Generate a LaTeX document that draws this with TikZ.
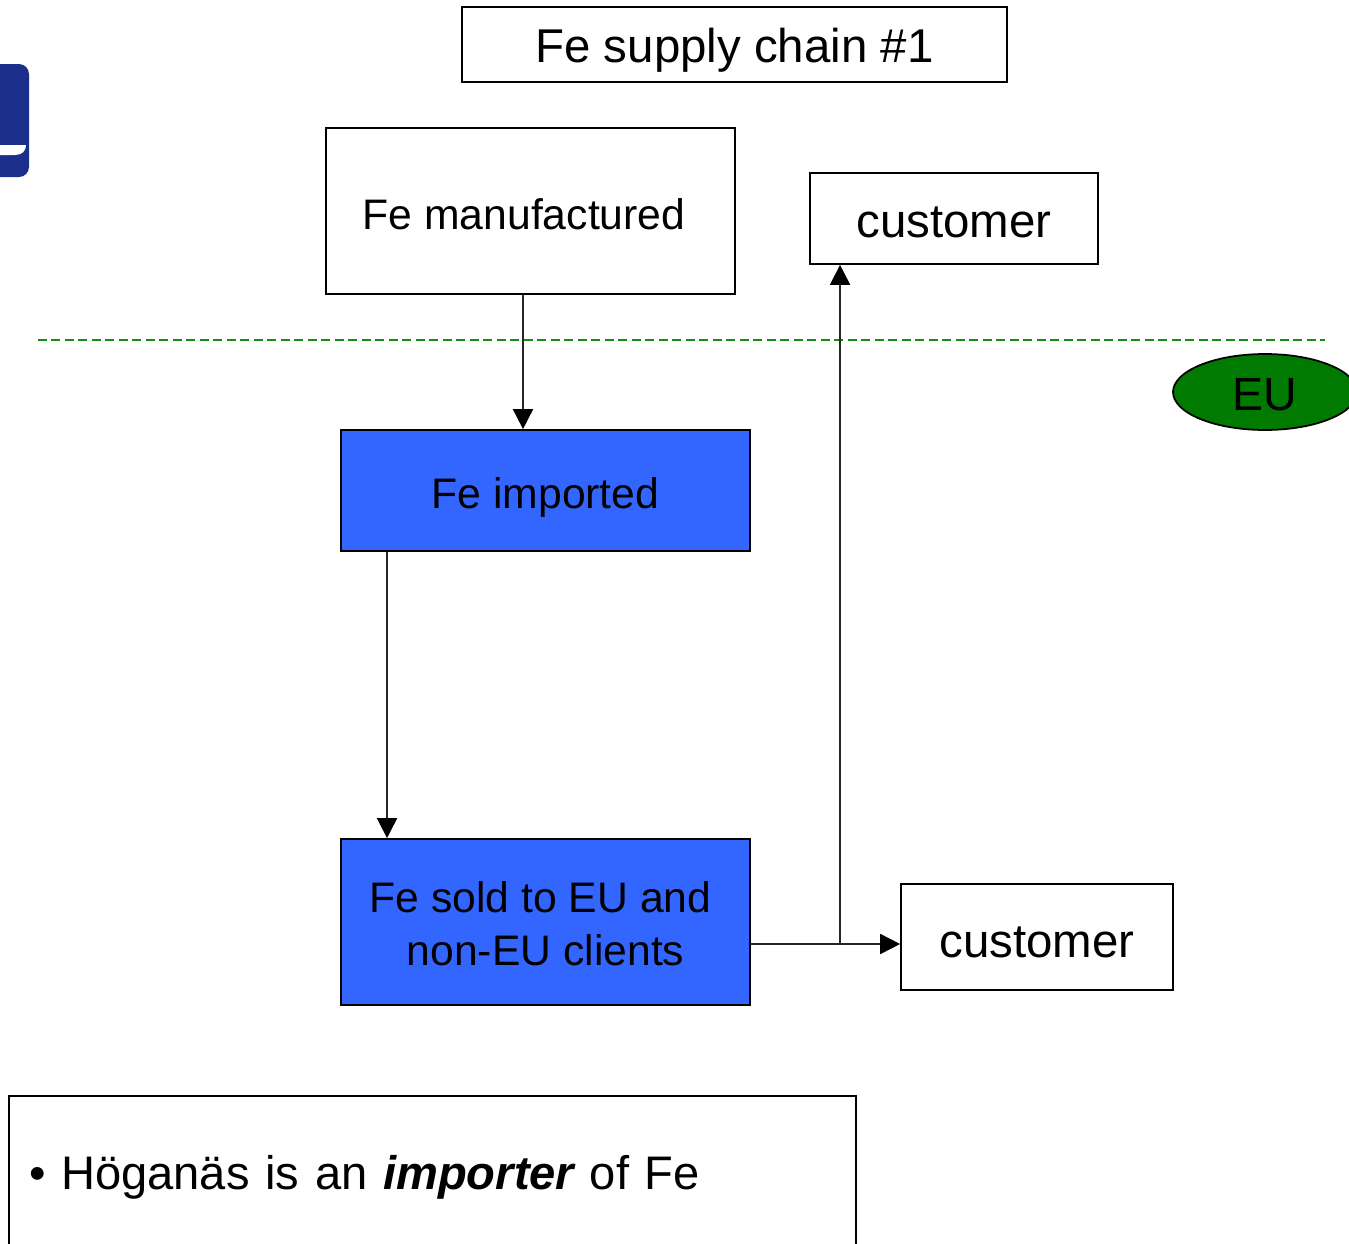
\documentclass[tikz,border=0pt]{standalone}
\usepackage{fontspec}
\setmainfont{Liberation Sans}
\usetikzlibrary{arrows.meta,shapes.geometric}
\definecolor{boxblue}{HTML}{3366FF}
\definecolor{eugreen}{HTML}{007A00}
\definecolor{linegreen}{HTML}{119011}
\definecolor{logoblue}{HTML}{1A2E8A}
\tikzset{
  box/.style={draw,line width=1pt,inner sep=0pt,align=center,text depth=0pt,font=\fontsize{24.3}{30}\selectfont},
  bluebox/.style={box,fill=boxblue},
  wire/.style={line width=1pt,draw=black!85},
  flow/.style={wire,-{Triangle[length=0.4cm,width=0.4cm,color=black]}},
}
\begin{document}
\begin{tikzpicture}[x=0.02cm,y=-0.02cm]
\useasboundingbox (0,0) rectangle (1349,1244);
\clip (0,0) rectangle (1349,1244);

\fill[logoblue,rounded corners=0.2cm] (-60,64) rectangle (29,177); % logo
\fill[white] (-60,145) -- (26,145) .. controls (26,151) and (22,155) .. (15,155) -- (-60,155) -- cycle; % franja logo

\coordinate (borderleft) at (38,340); % frontera
\coordinate (borderright) at (1325,340);
\draw[linegreen,line width=0.8pt,dash pattern=on 0.18cm off 0.09cm] (borderleft) -- (borderright);

\node[box,minimum width=10.9cm,minimum height=1.5cm,text height=0.74cm,font=\fontsize{27}{32}\selectfont] (title) at (734.5,44.5) {Fe supply chain \#1};
\node[box,minimum width=8.18cm,minimum height=3.32cm,text height=0.74cm] (manufactured) at (530.5,211) {Fe manufactured\hspace*{0.26cm}};
\node[box,minimum width=5.76cm,minimum height=1.82cm,text height=0.78cm,font=\fontsize{27}{32}\selectfont] (customertop) at (954,218.5) {customer};
\node[bluebox,minimum width=8.18cm,minimum height=2.42cm,text height=0.70cm] (imported) at (545.5,490.5) {Fe imported};
\node[bluebox,minimum width=8.18cm,minimum height=3.32cm,text depth=,text height=] (sold) at (545.5,922) {\rule{0pt}{19.5pt}Fe sold to EU and\hspace*{0.2cm}\\non-EU clients};
\node[box,minimum width=5.44cm,minimum height=2.12cm,text height=0.8cm,font=\fontsize{27}{32}\selectfont] (customerbottom) at (1037,937) {customer};
\node[ellipse,draw,line width=1pt,fill=eugreen,inner sep=0pt,minimum width=3.68cm,minimum height=1.52cm,text height=0.72cm,text depth=0pt,font=\fontsize{26.5}{32}\selectfont] (eu) at (1265,392) {EU};
\node[draw,line width=1pt,minimum width=16.94cm,minimum height=3.04cm,inner sep=0pt,text width=16.14cm,text height=0.68cm,text depth=0pt,align=left,font=\fontsize{26.8}{32}\selectfont] (note) at (432.5,1172) {• Höganäs is an {\bfseries\itshape importer} of Fe};

\coordinate (branch) at (840,944); % cruce

\draw[flow] ([xshift=-0.15cm]manufactured.south) -- ([xshift=-0.45cm]imported.north);
\draw[flow] ([xshift=-3.17cm]imported.south) -- ([xshift=-3.17cm]sold.north);
\draw[flow] ([yshift=-0.44cm]sold.east) -- ([yshift=-0.14cm]customerbottom.west);
\draw[flow] (branch) -- ([xshift=-2.28cm]customertop.south);
\end{tikzpicture}
\end{document}
